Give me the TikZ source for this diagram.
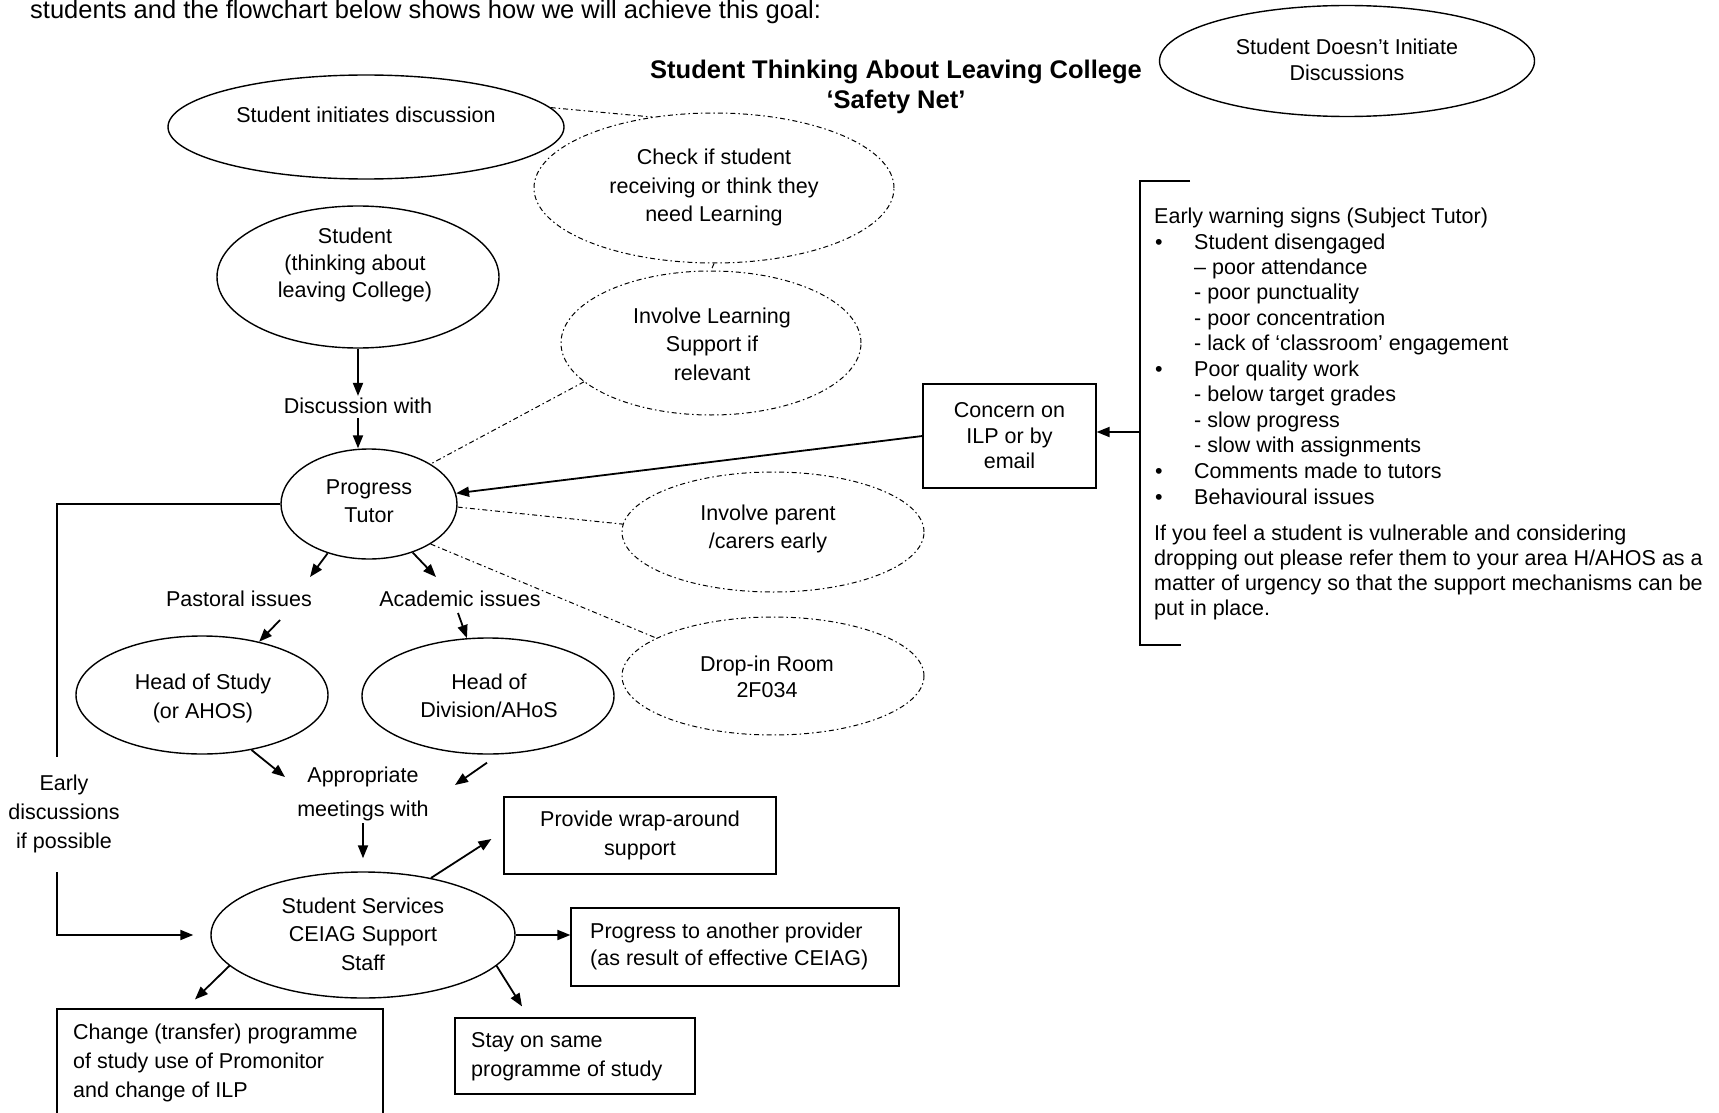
\documentclass[tikz,border=0pt]{standalone}
\usepackage{fontspec}
\setmainfont{Liberation Sans}
\usetikzlibrary{shapes.geometric,arrows.meta}
\newcommand\fsz{\fontsize{21.5}{28.5}\selectfont}
\newcommand\fszs{\fontsize{21.5}{25.5}\selectfont}
\newcommand\fszm{\fontsize{21.5}{27}\selectfont}
\newcommand\fszb{\fontsize{21.5}{29}\selectfont}
\tikzset{
 ell/.style={draw, ellipse, line width=1.4pt, inner sep=0pt},
 dell/.style={draw, ellipse, line width=1pt, dash pattern=on 5pt off 3pt on 1.5pt off 3pt, inner sep=0pt},
 boxn/.style={draw, rectangle, line width=1.2pt, inner sep=0pt, font=\fsz, align=center},
 txt/.style={font=\fsz, align=center, inner sep=2pt},
 ltxt/.style={font=\fszb, align=left, inner sep=0pt, anchor=west},
 wtxt/.style={font=\fsz, inner sep=0pt, anchor=base west},
 arr/.style={line width=1.8pt, -{Triangle[length=13pt,width=10pt]}},
 dd/.style={line width=1pt, dash pattern=on 5pt off 3pt on 1.5pt off 3pt},
 ln/.style={line width=1.3pt},
}
\begin{document}
\begin{tikzpicture}[x=1pt,y=-1pt]
\useasboundingbox (0,0) rectangle (1719,1113);
\clip (0,0) rectangle (1719,1113);
\fill[white] (0,0) rectangle (1719,1113);

% top text and title
\node[font=\fontsize{25.5}{30}\selectfont, inner sep=0pt, anchor=base west] (intro) at (30,19) {students and the flowchart below shows how we will achieve this goal:};
\node[font=\fontsize{25.5}{30}\selectfont\bfseries, inner sep=0pt] (title1) at (896,71.5) {Student Thinking About Leaving College};
\node[font=\fontsize{25.5}{30}\selectfont\bfseries, inner sep=0pt] (title2) at (896,102) {‘Safety Net’};

% ellipses
\node[ell, minimum width=375, minimum height=111] (sdi) at (1347,61) {};
\node[ell, minimum width=396, minimum height=104] (sii) at (366,127) {};
\node[dell, minimum width=360, minimum height=150] (chk) at (714,188) {};
\node[ell, minimum width=282, minimum height=142] (st) at (358,277) {};
\node[dell, minimum width=300, minimum height=144] (invl) at (711,343) {};
\node[ell, minimum width=176, minimum height=110] (pt) at (369,504) {};
\node[dell, minimum width=302, minimum height=120] (par) at (773,532) {};
\node[dell, minimum width=302, minimum height=118] (drop) at (773,676) {};
\node[ell, minimum width=252, minimum height=118] (hos) at (202,695) {};
\node[ell, minimum width=252, minimum height=116] (hod) at (488,696) {};
\node[ell, minimum width=304, minimum height=126] (ss) at (363,935) {};

% ellipse texts
\node[txt, font=\fszs] (sdi-t) at (1347,60) {Student Doesn’t Initiate\\Discussions};
\node[txt] (sii-t) at (366,115) {Student initiates discussion};
\node[txt] (chk-t) at (714,187.5) {Check if student\\receiving or think they\\need Learning};
\node[txt, font=\fszm] (st-t) at (355,264.5) {Student\\(thinking about\\leaving College)};
\node[txt] (invl-t) at (712,344) {Involve Learning\\Support if\\relevant};
\node[txt] (pt-t) at (369,501) {Progress\\Tutor};
\node[txt] (par-t) at (768,529) {Involve parent\\/carers early};
\node[txt, font=\fszs] (drop-t) at (767,677) {Drop-in Room\\2F034};
\node[txt] (hos-t) at (203,698.5) {Head of Study\\(or AHOS)};
\node[txt] (hod-t) at (489,696) {Head of\\Division/AHoS};
\node[txt] (ss-t) at (363,934) {Student Services\\CEIAG Support\\Staff};

% free labels
\node[txt] (disc) at (358,406) {Discussion with};
\node[txt] (past) at (239,599) {Pastoral issues};
\node[txt] (acad) at (460,599) {Academic issues};
\node[txt] (appr) at (363,777) {Appropriate};
\node[txt] (meet) at (363,811) {meetings with};
\node[txt, font=\fszb] (early) at (64,814) {Early\\discussions\\if possible};

% boxes
\node[boxn, font=\fszs, minimum width=173, minimum height=104] (conc) at (1009.5,436) {Concern on\\ILP or by\\email};
\node[boxn, minimum width=272, minimum height=77] (wrap) at (640,835.5) {Provide wrap-around\\support};
\node[boxn, minimum width=328, minimum height=78] (prog) at (735,947) {};
\node[ltxt, font=\fszm] (prog-t) at (590,946.5) {Progress to another provider\\(as result of effective CEIAG)};
\node[boxn, minimum width=326, minimum height=116] (chg) at (220,1067) {};
\node[ltxt] (chg-t) at (73,1062.5) {Change (transfer) programme\\of study use of Promonitor\\and change of ILP};
\node[boxn, minimum width=240, minimum height=76] (stay) at (575,1056) {};
\node[ltxt] (stay-t) at (471,1057) {Stay on same\\programme of study};

% early warning bracket and text
\draw[ln] (1190,181) -- (1140,181) -- (1140,645) -- (1181,645);
\coordinate (brk) at (1140,432);
\node[wtxt] (w1) at (1154,223) {Early warning signs (Subject Tutor)};
\node[wtxt] (b1) at (1155,249) {•};
\node[wtxt] (w2) at (1194,249) {Student disengaged};
\node[wtxt] (w3) at (1194,274.5) {– poor attendance};
\node[wtxt] (w4) at (1194,299.7) {- poor punctuality};
\node[wtxt] (w5) at (1194,325) {- poor concentration};
\node[wtxt] (w6) at (1194,350) {- lack of ‘classroom’ engagement};
\node[wtxt] (b2) at (1155,376.5) {•};
\node[wtxt] (w7) at (1194,376.5) {Poor quality work};
\node[wtxt] (w8) at (1194,401.7) {- below target grades};
\node[wtxt] (w9) at (1194,427) {- slow progress};
\node[wtxt] (w10) at (1194,452) {- slow with assignments};
\node[wtxt] (b3) at (1155,478) {•};
\node[wtxt] (w11) at (1194,478) {Comments made to tutors};
\node[wtxt] (b4) at (1155,504.7) {•};
\node[wtxt] (w12) at (1194,504.7) {Behavioural issues};
\node[wtxt] (w13) at (1154,540) {If you feel a student is vulnerable and considering};
\node[wtxt] (w14) at (1154,565) {dropping out please refer them to your area H/AHOS as a};
\node[wtxt] (w15) at (1154,590) {matter of urgency so that the support mechanisms can be};
\node[wtxt] (w16) at (1154,615.5) {put in place.};

% solid arrows
\draw[arr] (st.south) -- (st.south |- disc.north);
\draw[arr] ([shift={(0,2)}]disc.south) -- (disc.south |- pt.north);
\draw[arr] (pt.-130) -- ([shift={(71,-22)}]past.center);
\draw[arr] (pt.-48) -- ([shift={(-24,-22)}]acad.center);
\draw[arr] ([shift={(41,21)}]past.center) -- (hos.43);
\draw[arr] ([shift={(-2,14)}]acad.center) -- (hod.110);
\draw[arr] (hos.-48) -- ([shift={(-78,0)}]appr.center);
\draw[arr] ([shift={(-1,8)}]hod.south) -- ([shift={(92,-26)}]meet.center);
\draw[arr] (meet.south) -- ([shift={(0,-13)}]ss.north);
\draw[arr] (ss.40) -- ([shift={(-12,3.5)}]wrap.west);
\draw[arr] (ss.east) -- (ss.east -| prog.west);
\draw[arr] (ss.-167) -- ([shift={(-25,-9)}]chg.north);
\draw[arr] (ss.-13.5) -- ([shift={(-53,-11)}]stay.north);
\draw[arr] (conc.west) -- (pt);
\draw[arr] (brk) -- (brk -| conc.east);

% early discussions connector
\coordinate (e1) at (57,757);
\coordinate (e2) at (57,872);
\draw[ln] (pt.west) -- (pt.west -| e1) -- (e1);
\draw[arr, shorten >=17pt] (e2) |- (ss.west);

% dash-dot connectors
\draw[dd] (sii.6) -- (chk.131);
\draw[dd] (chk.south) -- (invl.north);
\draw[dd] (invl.-163) -- (pt.33);
\draw[dd] (pt.-2) -- (par.177);
\draw[dd] (pt.-33) -- (drop.162);
\end{tikzpicture}
\end{document}
